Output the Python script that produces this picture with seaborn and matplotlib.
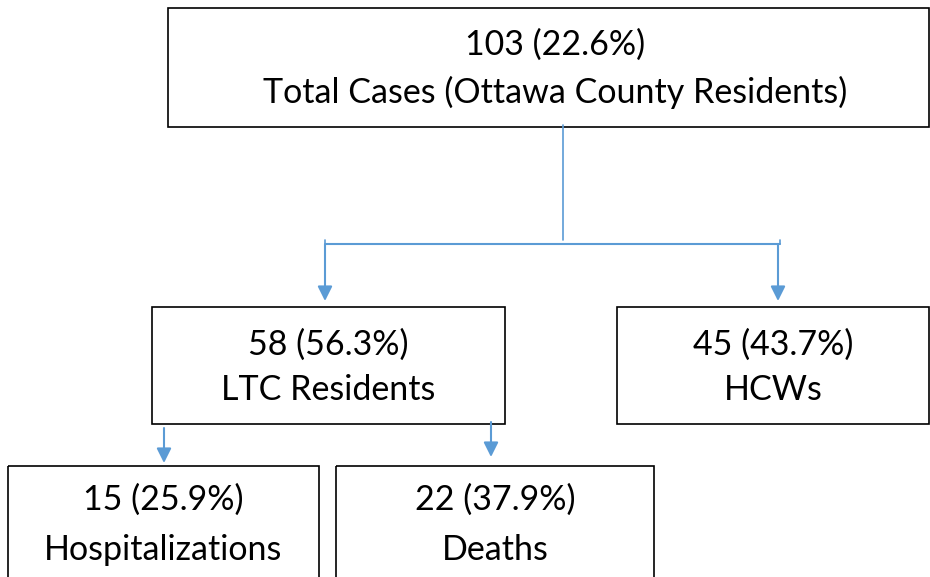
import matplotlib.pyplot as plt
import seaborn as sns
from matplotlib.patches import Rectangle

sns.set_style("white")
plt.rcParams['font.family'] = ['Lato', 'DejaVu Sans']

# dados do fluxograma
labels = ["Total Cases (Ottawa County Residents)", "LTC Residents", "HCWs",
          "Hospitalizations", "Deaths"]
counts = [103, 58, 45, 15, 22]
percents = [22.6, 56.3, 43.7, 25.9, 37.9]

# caixas em pixels: (x0, y0, x1, y1)
boxes = [(168, 8, 929, 127), (152, 307, 505, 424), (617, 307, 929, 424),
         (8, 466, 319, 600), (336, 466, 654, 600)]
text_y = [(45, 92), (345, 390), (345, 390), (500, 550), (500, 550)]
text_dx = [7, 0, 0, 0, 0]

azul = '#5B9BD5'

fig = plt.figure(figsize=(9.3, 5.77), dpi=100)
ax = fig.add_axes([0, 0, 1, 1])
ax.set_xlim(0, 930)
ax.set_ylim(577, 0)
ax.axis('off')

for (x0, y0, x1, y1), lab, n, p, (ya, yb), dx in zip(boxes, labels, counts, percents, text_y, text_dx):
    ax.add_patch(Rectangle((x0, y0), x1 - x0, y1 - y0, fill=False, edgecolor='black', lw=1.2))
    cx = (x0 + x1) / 2 + dx
    ax.text(cx, ya, f"{n} ({p}%)", ha='center', va='center', fontsize=24.5, color='black')
    ax.text(cx, yb, lab, ha='center', va='center', fontsize=24.5, color='black')

# linhas de conexão
ax.plot([563, 563], [125, 240], color=azul, lw=1.2)
ax.plot([326, 780], [244, 244], color=azul, lw=1.5)
ax.plot([780, 780], [240, 244], color=azul, lw=1.2)
ax.plot([325, 325], [240, 244], color=azul, lw=1.2)


def seta(x, y0, y1):
    ax.annotate('', xy=(x, y1), xytext=(x, y0),
                arrowprops=dict(arrowstyle='-|>', color=azul, lw=1.5,
                                mutation_scale=22, shrinkA=0, shrinkB=0))


seta(325, 244, 301)
seta(778, 244, 301)
seta(164, 428, 463)
seta(491, 422, 457)

fig.savefig('out.png', dpi=100)
